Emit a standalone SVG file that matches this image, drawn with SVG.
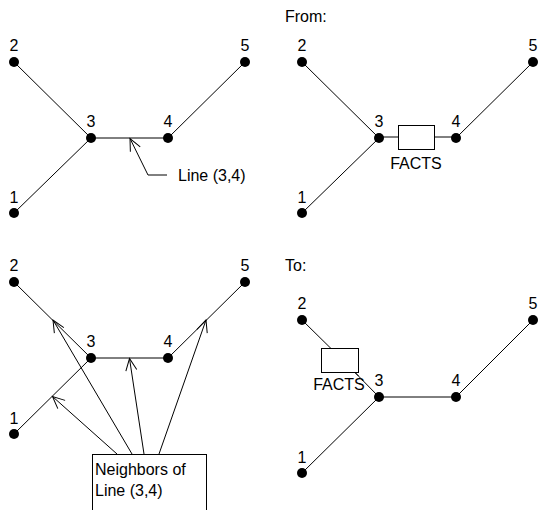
<svg xmlns="http://www.w3.org/2000/svg" width="539" height="510" viewBox="0 0 539 510">
<style>
.ln{stroke:#000;stroke-width:1;fill:none}
.dot{fill:#000}
.box{stroke:#000;stroke-width:1;fill:#fff}
text{font-family:"Liberation Sans",Arial,sans-serif;font-size:16px;fill:#000}
.num{text-anchor:middle}
.arr{stroke:#000;stroke-width:1;fill:none;marker-end:url(#open)}
</style>
<defs>
<marker id="open" viewBox="-13 -7 15 14" refX="0" refY="0" markerWidth="15" markerHeight="14" markerUnits="userSpaceOnUse" orient="auto">
<path d="M -12 -5.5 L 0 0 L -12 5.5" stroke="#000" stroke-width="1" fill="none"/>
</marker>
</defs>
<rect width="539" height="510" fill="#fff"/>

<!-- Panel 1 -->
<g id="p1-connectors">
<line class="ln" x1="14" y1="62" x2="91" y2="138"/>
<line class="ln" x1="14" y1="213" x2="91" y2="138"/>
<line class="ln" x1="91" y1="138" x2="168" y2="138"/>
<line class="ln" x1="168" y1="138" x2="245" y2="62"/>
<polyline class="arr" points="167,175 148,175 130,138.5"/>
</g>
<g id="p1-n1"><circle class="dot" cx="14" cy="213" r="5"/><text class="num" x="14" y="203">1</text></g>
<g id="p1-n2"><circle class="dot" cx="14" cy="62" r="5"/><text class="num" x="14" y="51">2</text></g>
<g id="p1-n3"><circle class="dot" cx="91" cy="138" r="5"/><text class="num" x="91" y="127">3</text></g>
<g id="p1-n4"><circle class="dot" cx="168" cy="138" r="5"/><text class="num" x="168" y="127">4</text></g>
<g id="p1-n5"><circle class="dot" cx="245" cy="62" r="5"/><text class="num" x="245" y="51">5</text></g>
<g id="p1-label"><text x="178" y="181">Line (3,4)</text></g>

<!-- Panel 2 -->
<g id="p2-title"><text x="285" y="22">From:</text></g>
<g id="p2-connectors">
<line class="ln" x1="302" y1="62" x2="379" y2="138"/>
<line class="ln" x1="302" y1="213" x2="379" y2="138"/>
<line class="ln" x1="379" y1="137" x2="398" y2="137"/>
<line class="ln" x1="434" y1="137" x2="456" y2="137"/>
<line class="ln" x1="456" y1="138" x2="533" y2="62"/>
</g>
<g id="p2-facts"><rect class="box" x="398.5" y="125.5" width="36" height="24"/><text class="num" x="416" y="169">FACTS</text></g>
<g id="p2-n1"><circle class="dot" cx="302" cy="213" r="5"/><text class="num" x="302" y="203">1</text></g>
<g id="p2-n2"><circle class="dot" cx="302" cy="62" r="5"/><text class="num" x="302" y="51">2</text></g>
<g id="p2-n3"><circle class="dot" cx="379" cy="138" r="5"/><text class="num" x="379" y="127">3</text></g>
<g id="p2-n4"><circle class="dot" cx="456" cy="138" r="5"/><text class="num" x="456" y="127">4</text></g>
<g id="p2-n5"><circle class="dot" cx="533" cy="62" r="5"/><text class="num" x="533" y="51">5</text></g>

<!-- Panel 3 -->
<g id="p3-connectors">
<line class="ln" x1="14" y1="282" x2="91" y2="358"/>
<line class="ln" x1="14" y1="434" x2="91" y2="358"/>
<line class="ln" x1="91" y1="358" x2="168" y2="358"/>
<line class="ln" x1="168" y1="358" x2="245" y2="282"/>
<line class="arr" x1="117" y1="454" x2="52.5" y2="396.5"/>
<line class="arr" x1="132" y1="454" x2="53" y2="320"/>
<line class="arr" x1="144" y1="454" x2="129.5" y2="358.5"/>
<line class="arr" x1="159" y1="454" x2="206" y2="320"/>
</g>
<g id="p3-n1"><circle class="dot" cx="14" cy="434" r="5"/><text class="num" x="14" y="424">1</text></g>
<g id="p3-n2"><circle class="dot" cx="14" cy="282" r="5"/><text class="num" x="14" y="271">2</text></g>
<g id="p3-n3"><circle class="dot" cx="91" cy="358" r="5"/><text class="num" x="91" y="347">3</text></g>
<g id="p3-n4"><circle class="dot" cx="168" cy="358" r="5"/><text class="num" x="168" y="347">4</text></g>
<g id="p3-n5"><circle class="dot" cx="245" cy="282" r="5"/><text class="num" x="245" y="271">5</text></g>
<g id="p3-neighbors"><rect class="box" x="92.5" y="454.5" width="114" height="60"/><text x="95" y="475">Neighbors of</text><text x="95" y="496">Line (3,4)</text></g>

<!-- Panel 4 -->
<g id="p4-title"><text x="285" y="271">To:</text></g>
<g id="p4-connectors">
<line class="ln" x1="302" y1="320" x2="331" y2="348.5"/>
<line class="ln" x1="355" y1="372.5" x2="379" y2="397"/>
<line class="ln" x1="302" y1="473" x2="379" y2="397"/>
<line class="ln" x1="379" y1="397" x2="456" y2="397"/>
<line class="ln" x1="456" y1="397" x2="533" y2="320"/>
</g>
<g id="p4-facts"><rect class="box" x="321.5" y="348.5" width="37" height="24"/><text class="num" x="339" y="390">FACTS</text></g>
<line class="ln" x1="355" y1="372.5" x2="358.5" y2="376"/>
<g id="p4-n1"><circle class="dot" cx="302" cy="473" r="5"/><text class="num" x="302" y="463">1</text></g>
<g id="p4-n2"><circle class="dot" cx="302" cy="320" r="5"/><text class="num" x="302" y="309">2</text></g>
<g id="p4-n3"><circle class="dot" cx="379" cy="397" r="5"/><text class="num" x="379" y="386">3</text></g>
<g id="p4-n4"><circle class="dot" cx="456" cy="397" r="5"/><text class="num" x="456" y="386">4</text></g>
<g id="p4-n5"><circle class="dot" cx="533" cy="320" r="5"/><text class="num" x="533" y="309">5</text></g>
</svg>
